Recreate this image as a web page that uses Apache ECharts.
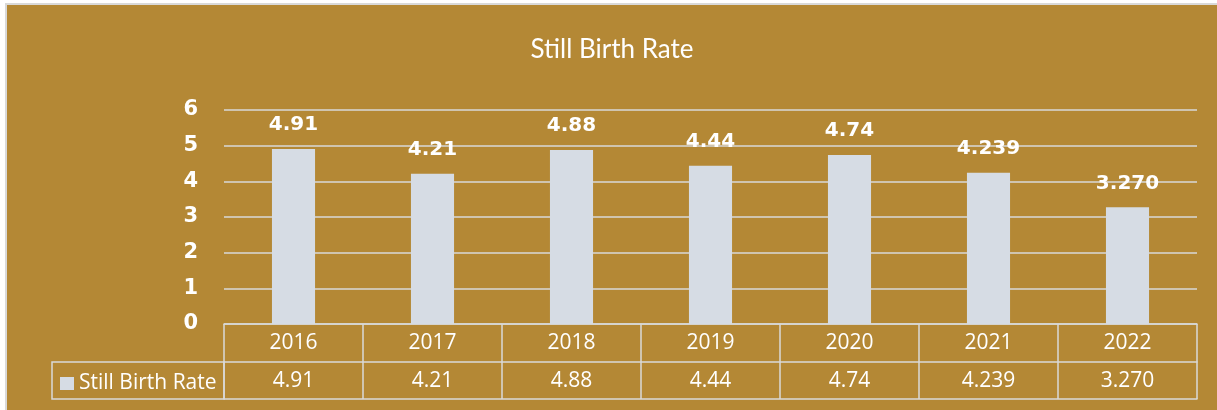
<!DOCTYPE html>
<html>
<head>
<meta charset="utf-8">
<script src="https://cdn.jsdelivr.net/npm/echarts@6/dist/echarts.min.js"></script>
<style>
  html, body { margin: 0; padding: 0; background: #ffffff; overflow: hidden; }
  #chart {
    position: absolute; left: 5px; top: 3px;
    width: 1210px; height: 405px;
    border-left: 2px solid #d9d9d9; border-top: 2px solid #d9d9d9;
  }
</style>
</head>
<body>
<div id="chart"></div>
<script>
// data
const years = ['2016', '2017', '2018', '2019', '2020', '2021', '2022']
const rateText = ['4.91', '4.21', '4.88', '4.44', '4.74', '4.239', '3.270']
const rates = rateText.map(Number)
const yTicks = [0, 1, 2, 3, 4, 5, 6]

const gold = '#b48835'
const lineGrey = '#d9d9d9'
const barColor = '#d6dce4'
const tableFont = { color: '#ffffff', fontSize: 21, fontFamily: 'Open Sans' }

const myChart = echarts.init(document.getElementById('chart'))
myChart.setOption({
  backgroundColor: gold,
  animation: false,
  title: {
    text: 'Still Birth Rate',
    left: 'center',
    top: 27,
    textStyle: { color: '#ffffff', fontSize: 26, fontWeight: 'normal', fontFamily: 'Lato' }
  },
  legend: {
    left: 48,
    top: 363,
    icon: 'rect',
    itemWidth: 14,
    itemHeight: 13,
    itemGap: 5,
    textStyle: tableFont,
    data: ['Still Birth Rate']
  },
  grid: { left: 217, right: 20, top: 105, bottom: 86 },
  xAxis: [
    {
      type: 'category',
      data: years,
      position: 'bottom',
      axisLine: { lineStyle: { color: lineGrey, width: 1.5 } },
      axisTick: { show: true, length: 75, interval: 0, lineStyle: { color: lineGrey, width: 1.5 } },
      axisLabel: Object.assign({ margin: 9, interval: 0 }, tableFont)
    },
    {
      type: 'category',
      data: rateText,
      position: 'bottom',
      offset: 38,
      axisLine: { lineStyle: { color: lineGrey, width: 1.5 } },
      axisTick: { show: false },
      axisLabel: Object.assign({ margin: 9, interval: 0 }, tableFont)
    },
    {
      type: 'category',
      data: years,
      position: 'bottom',
      offset: 75,
      axisLine: { lineStyle: { color: lineGrey, width: 1.5 } },
      axisTick: { show: false },
      axisLabel: { show: false }
    }
  ],
  yAxis: {
    type: 'value',
    min: yTicks[0],
    max: yTicks[yTicks.length - 1],
    interval: 1,
    axisLine: { show: false },
    axisTick: { show: false },
    axisLabel: { color: '#ffffff', fontSize: 21, fontWeight: 'bold', fontFamily: 'DejaVu Sans', margin: 26 },
    splitLine: { lineStyle: { color: lineGrey, width: 1.5 } }
  },
  graphic: [
    {
      // row-label cell of the data table
      type: 'rect',
      shape: { x: 45, y: 357, width: 172, height: 37 },
      style: { fill: 'none', stroke: lineGrey, lineWidth: 1.5 }
    }
  ],
  series: [
    {
      name: 'Still Birth Rate',
      type: 'bar',
      xAxisIndex: 0,
      barWidth: '31%',
      itemStyle: { color: barColor },
      label: {
        show: true,
        position: 'top',
        distance: 14,
        color: '#ffffff',
        fontSize: 20,
        fontWeight: 'bold',
        fontFamily: 'DejaVu Sans',
        formatter: p => rateText[p.dataIndex]
      },
      data: rates
    }
  ]
})
</script>
</body>
</html>
